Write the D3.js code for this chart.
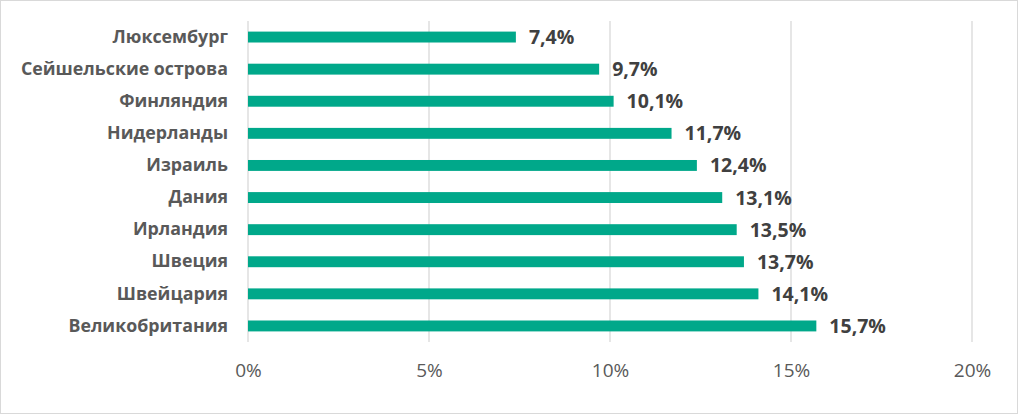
<!DOCTYPE html>
<head>
    <meta charset="utf-8">
    <title>Доля</title>
    <script src="https://d3js.org/d3.v7.min.js"></script>
    <style>
    body { margin: 0; background: #fff; }
    svg { display: block; }
    </style>
</head>
<body>
<script>
var countries = ["Люксембург", "Сейшельские острова", "Финляндия", "Нидерланды", "Израиль",
                 "Дания", "Ирландия", "Швеция", "Швейцария", "Великобритания"];
var values = [7.4, 9.7, 10.1, 11.7, 12.4, 13.1, 13.5, 13.7, 14.1, 15.7];
var ticks = [0, 5, 10, 15, 20];

var width = 1018, height = 414;
var font = "'Open Sans', 'Noto Sans', sans-serif";

var svg = d3.select("body").append("svg")
    .attr("width", width)
    .attr("height", height);

svg.append("rect")
    .attr("x", 0.5).attr("y", 0.5)
    .attr("width", width - 1).attr("height", height - 1)
    .attr("fill", "#fff")
    .attr("stroke", "#d9d9d9");

var x = d3.scaleLinear().domain([0, 20]).range([248, 972]);
var y = d3.scaleBand().domain(countries).range([21, 342]).paddingInner(0.66).paddingOuter(0.33);

// gridlines
svg.append("g").selectAll("line")
    .data(ticks)
    .enter().append("line")
    .attr("x1", function(d) { return x(d); })
    .attr("x2", function(d) { return x(d); })
    .attr("y1", 21).attr("y2", 342)
    .attr("stroke", "#d9d9d9")
    .attr("stroke-width", 1.3);

// x axis labels
var xAxis = svg.append("g")
    .attr("transform", "translate(0,342)")
    .call(d3.axisBottom(x).tickValues(ticks).tickSize(0).tickPadding(22)
        .tickFormat(function(d) { return d + "%"; }));
xAxis.select(".domain").remove();
xAxis.selectAll("text")
    .attr("fill", "#595959")
    .style("font-family", font)
    .style("font-size", "19px");

// y axis labels
var yAxis = svg.append("g")
    .attr("transform", "translate(240,0)")
    .call(d3.axisLeft(y).tickSize(0).tickPadding(12));
yAxis.select(".domain").remove();
yAxis.selectAll("text")
    .attr("fill", "#595959")
    .style("font-family", font)
    .style("font-weight", "bold")
    .style("font-size", "17.8px");

// bars
svg.append("g").selectAll("rect")
    .data(values)
    .enter().append("rect")
    .attr("x", x(0))
    .attr("y", function(d, i) { return y(countries[i]); })
    .attr("width", function(d) { return x(d) - x(0); })
    .attr("height", y.bandwidth())
    .attr("fill", "#00a88a");

// value labels
svg.append("g").selectAll("text")
    .data(values)
    .enter().append("text")
    .attr("x", function(d) { return x(d) + 13; })
    .attr("y", function(d, i) { return y(countries[i]) + y.bandwidth() / 2; })
    .attr("dy", "0.36em")
    .attr("fill", "#404040")
    .style("font-family", font)
    .style("font-weight", "bold")
    .style("font-size", "19.5px")
    .text(function(d) { return d.toFixed(1).replace(".", ",") + "%"; });
</script>
</body>
